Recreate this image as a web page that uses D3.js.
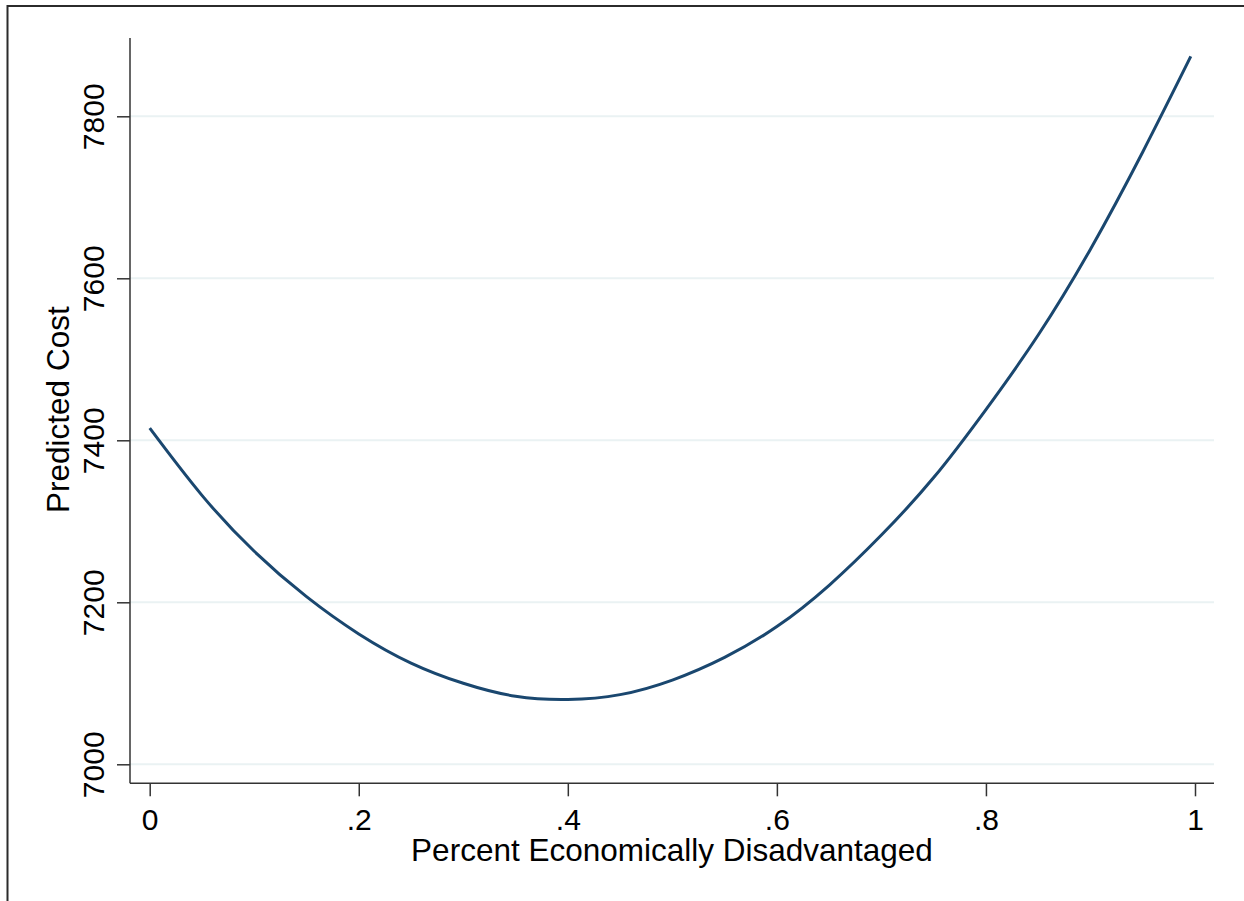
<!DOCTYPE html>
<html>
<head>
<meta charset="utf-8">
<script src="https://cdn.jsdelivr.net/npm/d3@7/dist/d3.min.js"></script>
<style>
  html, body { margin: 0; padding: 0; background: #fff; }
  svg { display: block; }
  text { font-family: "Liberation Sans", Arial, sans-serif; fill: #000; }
</style>
</head>
<body>
<svg id="chart" width="1244" height="901"></svg>
<script>
// Data
const xValues = [0, 0.05, 0.10, 0.15, 0.20, 0.25, 0.30, 0.35, 0.40, 0.45, 0.50,
                 0.55, 0.60, 0.65, 0.70, 0.75, 0.80, 0.85, 0.90, 0.95, 0.996];
const predictedCost = [7415, 7332, 7263, 7207, 7161, 7125, 7100, 7084, 7080, 7086, 7104,
                       7132, 7170, 7221, 7283, 7354, 7438, 7530, 7636, 7756, 7874];
const xTicks = [0, 0.2, 0.4, 0.6, 0.8, 1];
const xTickLabels = ["0", ".2", ".4", ".6", ".8", "1"];
const yTicks = [7000, 7200, 7400, 7600, 7800];
const xTitle = "Percent Economically Disadvantaged";
const yTitle = "Predicted Cost";

const svg = d3.select("#chart");

// outer frame (Stata graph region border)
svg.append("rect")
  .attr("x", 7.5).attr("y", 6)
  .attr("width", 1260).attr("height", 920)
  .attr("fill", "none").attr("stroke", "#2b2b2b").attr("stroke-width", 2);

const plotLeft = 130, plotRight = 1214, plotTop = 38, plotBottom = 783.3;

const x = d3.scaleLinear().domain([0, 1]).range([149.7, 1195]);
const y = d3.scaleLinear().domain([7000, 7800]).range([764.3, 116.3]);

// gridlines
svg.append("g").selectAll("line").data(yTicks).join("line")
  .attr("x1", plotLeft).attr("x2", plotRight)
  .attr("y1", d => y(d)).attr("y2", d => y(d))
  .attr("stroke", "#eaf2f3").attr("stroke-width", 2);

// curve
const line = d3.line()
  .x((d, i) => x(xValues[i]))
  .y(d => y(d))
  .curve(d3.curveNatural);
svg.append("path")
  .datum(predictedCost)
  .attr("d", line)
  .attr("fill", "none")
  .attr("stroke", "#1a476f")
  .attr("stroke-width", 3)
  .attr("stroke-linejoin", "round");

// y axis
const yAxis = d3.axisLeft(y).tickValues(yTicks).tickSize(13).tickSizeOuter(0).tickFormat(d3.format("d"));
const gy = svg.append("g").attr("transform", `translate(${plotLeft},0)`).call(yAxis);
gy.select(".domain").remove();
gy.selectAll(".tick line").attr("stroke", "#333").attr("stroke-width", 1.5);
gy.selectAll(".tick text")
  .attr("x", null).attr("dy", null)
  .attr("transform", "translate(-26,0) rotate(-90)")
  .attr("text-anchor", "middle")
  .style("font-size", "30px")
  .style("font-family", "'Liberation Sans', Arial, sans-serif")
  .attr("fill", "#000");
svg.append("line")
  .attr("x1", plotLeft).attr("x2", plotLeft)
  .attr("y1", plotTop).attr("y2", plotBottom)
  .attr("stroke", "#333").attr("stroke-width", 1.5);

// x axis
const xAxis = d3.axisBottom(x).tickValues(xTicks).tickSize(13).tickSizeOuter(0)
  .tickFormat((d, i) => xTickLabels[i]);
const gx = svg.append("g").attr("transform", `translate(0,${plotBottom})`).call(xAxis);
gx.select(".domain").remove();
gx.selectAll(".tick line").attr("stroke", "#333").attr("stroke-width", 1.5);
gx.selectAll(".tick text")
  .attr("y", 47).attr("dy", null)
  .style("font-size", "30px")
  .style("font-family", "'Liberation Sans', Arial, sans-serif")
  .attr("fill", "#000");
svg.append("line")
  .attr("x1", plotLeft).attr("x2", plotRight)
  .attr("y1", plotBottom).attr("y2", plotBottom)
  .attr("stroke", "#333").attr("stroke-width", 1.5);

// axis titles
svg.append("text")
  .attr("x", (plotLeft + plotRight) / 2).attr("y", 861)
  .attr("text-anchor", "middle")
  .style("font-size", "31.5px")
  .text(xTitle);
svg.append("text")
  .attr("transform", `translate(69,${(plotTop + plotBottom) / 2 - 1}) rotate(-90)`)
  .attr("text-anchor", "middle")
  .style("font-size", "31.5px")
  .text(yTitle);
</script>
</body>
</html>
